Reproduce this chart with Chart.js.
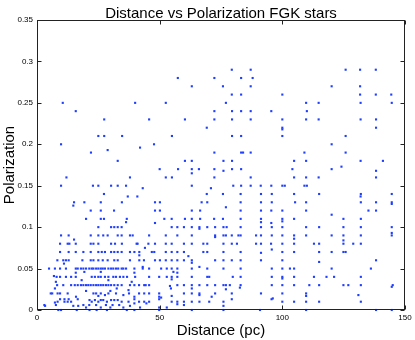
<!DOCTYPE html>
<html>
<head>
<meta charset="utf-8">
<script src="https://cdn.jsdelivr.net/npm/chart.js@4.4.1/dist/chart.umd.min.js"></script>
<style>
	body { margin: 0; background: #fff; }
	#wrap { width: 415px; height: 340px; }
</style>
</head>
<body>
<div id="wrap"><canvas id="scatter" width="415" height="340"></canvas></div>
<script>
const chartTitle = 'Distance vs Polarization FGK stars';
const xTitle = 'Distance (pc)';
const yTitle = 'Polarization';
const xTickValues = [0, 50, 100, 150];
const yTickValues = [0, 0.05, 0.1, 0.15, 0.2, 0.25, 0.3, 0.35];

// polarization value of each row, and the distances (pc) of the stars on that row
const polarization = [
	0.29, 0.28, 0.27, 0.26, 0.25, 0.24, 0.23, 0.22, 0.218, 0.21,
	0.2, 0.196, 0.193, 0.19, 0.18, 0.173, 0.17, 0.168, 0.165, 0.16,
	0.15, 0.147, 0.14, 0.137, 0.13, 0.128, 0.126, 0.124, 0.12, 0.115,
	0.11, 0.107, 0.106, 0.105, 0.1, 0.098, 0.093, 0.09, 0.088, 0.086,
	0.085, 0.084, 0.08, 0.075, 0.073, 0.07, 0.069, 0.066, 0.065, 0.06,
	0.058, 0.057, 0.056, 0.052, 0.05, 0.046, 0.045, 0.041, 0.04, 0.038,
	0.037, 0.036, 0.034, 0.03, 0.029, 0.028, 0.027, 0.026, 0.025, 0.024,
	0.023, 0.02, 0.018, 0.017, 0.016, 0.015, 0.014, 0.013, 0.012, 0.01,
	0.009, 0.008, 0.007, 0.006, 0.005, 0.003, 0,
];
const distance = [
	[79.4, 87.1, 125.8, 131.7, 138.1],
	[57.4, 72.3, 83.2, 87.9],
	[63.1, 75.8, 87.1, 120.1, 131.7],
	[79.4, 83.2, 100, 131.7, 138.1, 144.4],
	[10.5, 40, 52.5, 77, 109.7, 114.8, 131.9, 144.6],
	[15.8, 72.3, 79.5, 83.2, 87.1, 95.5, 110],
	[27.4, 45.7, 60.3, 72.3, 79.5, 87.1, 100, 109.7, 114.8, 131.9, 138.2],
	[69.2, 100, 138.2],
	[100],
	[25, 27.4, 34.7, 55, 79.5, 83.2, 100, 125.8],
	[9.8, 47.7, 120.1],
	[42],
	[28.8],
	[22, 72.3, 83.2, 84, 87.1, 109, 125.8],
	[32.9, 60.3, 63.1, 76, 79.5, 104.8, 109.7, 131.9, 141],
	[124.1],
	[50, 57.5, 63.1, 66, 72.3, 79.5, 83.2, 104.1, 120.1],
	[76, 138.2],
	[63.1],
	[12, 37.9, 52.5, 55, 72.3, 87.1, 104.8, 109.7, 114.8, 138.2],
	[9.8, 22.8, 25, 30.2, 32.9, 36.3, 63.1, 80, 83.2, 87.1, 91.2, 95.5, 100, 101, 109, 110],
	[43.1, 70.9],
	[27.3, 69.2, 75.8, 83, 91.3, 95.7, 104.8, 115, 132, 144.6],
	[37, 40.9, 131.9],
	[15.1, 19.3, 26, 34.6, 48.1, 50.1, 67.1, 69.4, 83, 91.3, 95.7, 105.2, 109.7, 132, 138.2, 144.6],
	[144.6],
	[14.8],
	[77],
	[21.9, 26, 31.4, 48.1, 50.1, 63.1, 66.5, 83, 91.3, 95.5, 100, 109.7, 135.1, 138.2],
	[120.1],
	[20, 26, 27.3, 36.6, 51.9, 54.9, 60.3, 63.1, 66.5, 72.2, 75.8, 83, 91.3, 100, 104.8, 124.9, 132],
	[100],
	[36.3, 91.3],
	[48.1, 95.5],
	[25, 30.2, 31.5, 32.9, 34.5, 54.9, 57.2, 59.9, 63.1, 66.2, 69.4, 72.6, 76, 77.3, 83, 91.3, 95.7, 100, 109.7, 115, 124.9, 132, 144.6],
	[66.2],
	[144.6],
	[9.8, 12.9, 21.9, 25, 27, 28.8, 32.9, 34.5, 37.9, 39, 45.7, 52.5, 57.2, 63.1, 72.6, 76, 77, 79.4, 82.1, 83, 89.3, 91.3, 95.7, 100, 104.8, 109.7, 120.1, 124.9, 132, 144.6],
	[72.6],
	[104.8],
	[15.1],
	[124.9],
	[9.4, 12.5, 13.2, 15.8, 21.9, 23, 25, 30.2, 31.8, 34.6, 40.6, 41, 45.4, 48.1, 52.5, 54.9, 59.9, 63.1, 67.8, 69.4, 76, 79.4, 81.5, 89.3, 91.3, 95.4, 100, 104.8, 112.9, 115, 124.9, 128.9, 132],
	[44],
	[95.7],
	[9.4, 12.9, 15.8, 18.9, 21.9, 25, 26.4, 27.7, 30.2, 31.5, 32.9, 34.5, 37.9, 39.7, 41.7, 46.8, 47.8, 52.5, 54.9, 57.2, 59.9, 67.8, 69.4, 76, 83, 100, 104.8, 115, 120.1, 124.9, 125.8],
	[91.3],
	[41.7],
	[61.7],
	[8.3, 10.7, 11.8, 12.9, 18.5, 21.9, 23, 25, 26.8, 28.8, 31.5, 32.9, 37.9, 41.7, 43.6, 48.1, 50.1, 52.5, 54.9, 57.2, 59.9, 63.1, 72.6, 76, 79.4, 83, 91.3, 100, 138.2],
	[115],
	[63.1],
	[11],
	[43.1, 66.2],
	[4.9, 7.3, 9.4, 11.8, 15.8, 16.6, 17.9, 18.9, 20, 21.3, 22.3, 23, 24.1, 25, 26, 26.8, 27.7, 29.1, 30.2, 31.1, 32.2, 33.1, 34.5, 35.2, 36.3, 39.7, 43.1, 45.7, 50.6, 52.9, 54.9, 57.2, 63.1, 69.4, 76, 83, 95.7, 100, 103.1, 104.8, 120.1, 136.1],
	[19.3, 26, 55.6],
	[15.8, 39.7, 57.2],
	[6.9],
	[8, 9.4, 11.8, 13.9, 15.8, 22.3, 23.6, 25, 26, 27.7, 29.1, 31.1, 32.2, 33.8, 35.2, 36.7, 40, 45.7, 49.8, 52.9, 54.9, 57.2, 63.1, 69.4, 70.2, 79.8, 83, 95.7, 100, 104.8, 112.9, 118, 121.1, 132],
	[100],
	[54.9],
	[18.2, 29.1],
	[7.7, 38.6],
	[8.2, 10.7, 13.9, 15.4, 16.6, 17.9, 18.9, 20, 20.9, 21.9, 23, 24.1, 25, 26, 27, 28.1, 29.1, 30.2, 31.5, 32.9, 34.5, 37.9, 39.7, 41.6, 43.7, 44.3, 45.7, 57.2, 59.9, 63.1, 66.2, 69.4, 72.6, 76, 77, 78.6, 83, 95.7, 100, 104.8, 111, 115, 124.9, 126.9, 132, 145],
	[54.2],
	[144.6],
	[82.7],
	[7.3, 32.5, 54.6, 63.1],
	[77],
	[37.3],
	[20, 29.9],
	[5.6, 6.2, 8.4, 9.4, 12.5, 23, 24.1, 26, 29.1, 32.2, 37.5, 41.6, 43.7, 45.7, 49.8, 59.9, 63.1, 66.2, 72.6, 79.4, 91.3, 100, 109.7],
	[27.7, 35.2, 66.2, 131],
	[25, 54.9, 109.7],
	[15.9, 39.7, 49.8, 71.2],
	[50.6],
	[96.1],
	[9.4, 11.2, 12.9, 16.6, 39.7, 49.8, 79.4, 95.6],
	[21.4, 23.6, 26, 27, 30.2, 31.5, 32.9],
	[8.4, 11.2, 12.5, 13.9, 22.3, 25, 28.5, 34.5, 37.3, 41.6, 43.7, 45.7, 54.9, 57.2, 59.9, 63.1, 66.2, 70.2, 76, 100, 104.8, 109.7, 115, 132],
	[7.3],
	[39.7, 44.6],
	[57.2],
	[3, 7.7, 18.9, 21.3, 24.1, 28.1, 30.8, 33.5, 59.9],
	[3.3, 14.8, 16.8, 37.9, 76],
	[20, 26, 29.9, 35.2, 42, 49.8, 52.9],
	[8.7, 9.8, 16.2, 21.4, 24.3, 28.5, 36.6, 39.7, 49.8, 63.1, 76, 90.9, 109.7, 138.2, 144.6],
];

const fontFamily = '"Liberation Sans", Arial, Helvetica, sans-serif';

const points = [];
polarization.forEach((p, i) => {
	distance[i].forEach((d) => {
		points.push({ x: d, y: p });
	});
});

// matlab style box, inward ticks and the titles
const matlabAxes = {
	id: 'matlabAxes',
	afterDraw(chart) {
		const { ctx, chartArea, scales } = chart;
		const l = Math.round(chartArea.left) + 0.5;
		const r = Math.round(chartArea.right) - 0.5;
		const t = Math.round(chartArea.top) + 0.5;
		const b = Math.round(chartArea.bottom) - 0.5;
		ctx.save();
		ctx.strokeStyle = '#222';
		ctx.lineWidth = 1;
		ctx.strokeRect(l, t, r - l, b - t);
		ctx.beginPath();
		xTickValues.forEach((v) => {
			const px = Math.round(scales.x.getPixelForValue(v)) + 0.5;
			ctx.moveTo(px, b);
			ctx.lineTo(px, b - 4);
			ctx.moveTo(px, t);
			ctx.lineTo(px, t + 4);
		});
		yTickValues.forEach((v) => {
			const py = Math.round(scales.y.getPixelForValue(v)) + 0.5;
			ctx.moveTo(l, py);
			ctx.lineTo(l + 4, py);
			ctx.moveTo(r, py);
			ctx.lineTo(r - 4, py);
		});
		ctx.stroke();

		const cx = (chartArea.left + chartArea.right) / 2;
		const cy = (chartArea.top + chartArea.bottom) / 2;
		ctx.fillStyle = '#000';
		ctx.font = '15px ' + fontFamily;
		ctx.textAlign = 'center';
		ctx.textBaseline = 'alphabetic';
		ctx.fillText(chartTitle, cx, 18);
		ctx.fillText(xTitle, cx, 335);
		ctx.translate(14, cy);
		ctx.rotate(-Math.PI / 2);
		ctx.fillText(yTitle, 0, 0);
		ctx.restore();
	},
};

const scatterChart = new Chart(document.getElementById('scatter'), {
	type: 'scatter',
	data: {
		datasets: [
			{
				data: points,
				pointStyle: 'rect',
				pointRadius: 1.5,
				pointHoverRadius: 1.5,
				backgroundColor: '#1f3fff',
				borderWidth: 0,
				clip: false,
			},
		],
	},
	options: {
		responsive: false,
		animation: false,
		layout: {
			padding: { top: 20, right: 10, left: 0, bottom: 0 },
		},
		plugins: {
			legend: { display: false },
			tooltip: { enabled: false },
		},
		scales: {
			x: {
				type: 'linear',
				min: 0,
				max: 150,
				afterBuildTicks: (s) => {
					s.ticks = xTickValues.map((v) => ({ value: v }));
				},
				afterFit: (s) => {
					s.height = 30;
				},
				ticks: {
					padding: 3,
					maxRotation: 0,
					autoSkip: false,
					color: '#000',
					font: { size: 8, family: fontFamily },
					callback: (v) => String(v),
				},
				grid: { display: false, drawTicks: false },
				border: { display: false },
			},
			y: {
				type: 'linear',
				min: 0,
				max: 0.35,
				afterBuildTicks: (s) => {
					s.ticks = yTickValues.map((v) => ({ value: v }));
				},
				afterFit: (s) => {
					s.width = 37;
				},
				ticks: {
					padding: 4,
					autoSkip: false,
					color: '#000',
					font: { size: 8, family: fontFamily },
					callback: (v) => String(v),
				},
				grid: { display: false, drawTicks: false },
				border: { display: false },
			},
		},
	},
	plugins: [matlabAxes],
});
</script>
</body>
</html>
